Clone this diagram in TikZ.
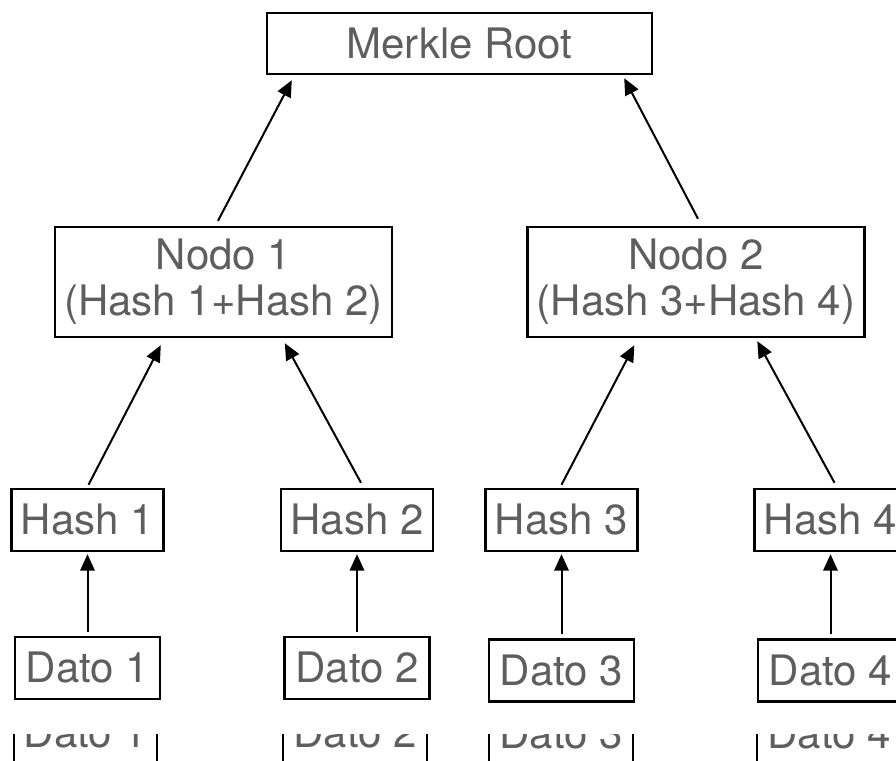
\documentclass[tikz,border=0pt]{standalone}
\usepackage{fontspec}
\setmainfont{TeX Gyre Heros}
\usetikzlibrary{arrows.meta}
\definecolor{labelgray}{RGB}{94,94,94}
\begin{document}
\begin{tikzpicture}[x=1pt,y=1pt,
  box/.style={draw=black, line width=2.4pt, inner sep=0pt, text=labelgray,
    font=\fontsize{42}{44}\selectfont, align=center},
  rootbox/.style={box, minimum width=385pt, minimum height=61pt},
  midbox/.style={box, minimum width=337pt, minimum height=110pt},
  hashbox/.style={box, minimum width=152pt, minimum height=62pt},
  datobox/.style={box, minimum width=145pt, minimum height=62pt},
  link/.style={line width=2pt, -{Triangle[length=16.5pt,width=14.5pt]}}]
\useasboundingbox (0,0) rectangle (896,760);
\clip (0,0) rectangle (896,760);

% tree levels
\node[rootbox] (root) at (459.5,716.5) {Merkle Root};
\node[midbox] (n1) at (223.5,478) {Nodo 1\\[2pt](Hash 1+Hash 2)};
\node[midbox] (n2) at (696,478) {Nodo 2\\[2pt](Hash 3+Hash 4)};

\node[hashbox] (h1) at (87.5,240) {Hash 1};
\node[hashbox] (h2) at (357,240) {Hash 2};
\node[hashbox] (h3) at (561.5,240) {Hash 3};
\node[hashbox] (h4) at (830.5,240) {Hash 4};

\node[datobox] (d1) at (87.5,92) {Dato 1};
\node[datobox] (d2) at (357,92) {Dato 2};
\node[datobox] (d3) at (561.5,89.5) {Dato 3};
\node[datobox] (d4) at (830.5,89.5) {Dato 4};

% hashes combine upwards
\draw[link] ([xshift=-5.5pt,yshift=5pt]n1.north) -- ([xshift=26pt,yshift=-5pt]root.south west);
\draw[link] ([xshift=2pt,yshift=7pt]n2.north) -- ([xshift=-29pt,yshift=-3pt]root.south east);

\draw[link] ([xshift=1pt,yshift=3pt]h1.north) -- ([xshift=107pt,yshift=-7pt]n1.south west);
\draw[link] ([xshift=4pt,yshift=5pt]h2.north) -- ([xshift=231pt,yshift=-5pt]n1.south west);
\draw[link] ([yshift=3pt]h3.north) -- ([xshift=108pt,yshift=-7pt]n2.south west);
\draw[link] ([xshift=4pt,yshift=5pt]h4.north) -- ([xshift=231pt,yshift=-3pt]n2.south west);

\foreach \d/\h in {d1/h1,d2/h2,d3/h3,d4/h4}
  \draw[link] ([yshift=4pt]\d.north) -- ([yshift=-2pt]\h.south);

% repeated data row, only its lower part showing
\begin{scope}
  \clip (0,0) rectangle (896,26);
  \node[datobox, minimum width=143pt] (c1) at (85.5,27) {Dato 1};
  \node[datobox, minimum width=144pt] (c2) at (355,27) {Dato 2};
  \node[datobox, minimum width=144pt] (c3) at (561,26) {Dato 3};
  \node[datobox, minimum width=144pt] (c4) at (829,26) {Dato 4};
\end{scope}
\end{tikzpicture}
\end{document}
